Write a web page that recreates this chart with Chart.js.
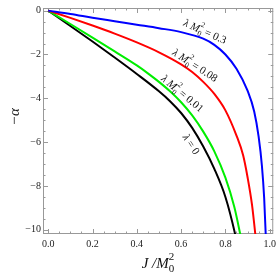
<!DOCTYPE html>
<html>
<head>
<meta charset="utf-8">
<script src="https://cdn.jsdelivr.net/npm/chart.js@4.4.1/dist/chart.umd.min.js"></script>
<style>
  body { margin: 0; background: #fff; }
  canvas { display: block; }
</style>
</head>
<body>
<canvas id="grafica" width="280" height="276"></canvas>
<script>
// valores: J/M0^2 y -alpha para cada curva
const jNegro = [0, 0.1, 0.2, 0.3, 0.4, 0.5, 0.55, 0.6, 0.65, 0.7, 0.75, 0.8, 0.844, 0.85];
const aNegro = [0, -0.70, -1.41, -2.14, -2.89, -3.68, -4.13, -4.67, -5.35, -6.20, -7.22, -8.50, -10.2, -10.5];

const jVerde = [0, 0.1, 0.2, 0.3, 0.4, 0.45, 0.5, 0.55, 0.6, 0.65, 0.7, 0.75, 0.8, 0.84, 0.867, 0.875];
const aVerde = [0, -0.61, -1.23, -1.86, -2.50, -2.86, -3.25, -3.68, -4.18, -4.78, -5.52, -6.42, -7.62, -8.95, -10.2, -10.6];

const jRojo = [0, 0.1, 0.2, 0.3, 0.4, 0.5, 0.6, 0.65, 0.7, 0.75, 0.8, 0.85, 0.88, 0.9, 0.92, 0.935, 0.94];
const aRojo = [0, -0.33, -0.68, -1.05, -1.45, -1.90, -2.45, -2.80, -3.25, -3.80, -4.55, -5.70, -6.60, -7.60, -8.85, -10.2, -10.7];

const jAzul = [0, 0.1, 0.2, 0.3, 0.4, 0.5, 0.6, 0.7, 0.75, 0.8, 0.85, 0.9, 0.93, 0.95, 0.965, 0.975, 0.982, 0.985];
const aAzul = [0, -0.15, -0.32, -0.48, -0.64, -0.80, -0.98, -1.28, -1.56, -2.00, -2.65, -3.65, -4.60, -5.75, -7.10, -8.55, -10.2, -11.2];

// marcas de los ejes
const xMarcas = [0, 0.2, 0.4, 0.6, 0.8, 1.0];
const xEtiquetas = ['0.0', '0.2', '0.4', '0.6', '0.8', '1.0'];
const yMarcas = [0, -2, -4, -6, -8, -10];
const yEtiquetas = ['0', '\u22122', '\u22124', '\u22126', '\u22128', '\u221210'];

// etiquetas de las curvas
const etiquetasCurvas = [
    { valor: '0.3', j: 0.708, a: -0.95, angulo: 24 },
    { valor: '0.08', j: 0.663, a: -2.5, angulo: 33 },
    { valor: '0.01', j: 0.606, a: -3.78, angulo: 40 },
    { valor: null, j: 0.645, a: -6.1, angulo: 57 }
];

const serif = '"Liberation Serif", "DejaVu Serif", serif';

function puntos(js, as) {
    return js.map((j, i) => ({ x: j, y: as[i] }));
}

function serie(js, as, color) {
    return {
        data: puntos(js, as),
        borderColor: color,
        borderWidth: 2,
        pointRadius: 0,
        fill: false,
        cubicInterpolationMode: 'monotone'
    };
}

// dibuja texto con subindice y superindice apilados
function dibujarPartes(ctx, partes) {
    let ancho = 0;
    partes.forEach(p => {
        ctx.font = p.font;
        p.w = p.apilado ? Math.max(ctx.measureText(p.t).width, ctx.measureText(p.t2).width) : ctx.measureText(p.t).width;
        ancho += p.w;
    });
    let x = -ancho / 2;
    partes.forEach(p => {
        ctx.font = p.font;
        if (p.apilado) {
            ctx.fillText(p.t, x, p.dy1);
            ctx.fillText(p.t2, x, p.dy2);
        } else {
            ctx.fillText(p.t, x, p.dy || 0);
        }
        x += p.w;
    });
}

const marcoPlugin = {
    id: 'marco',
    beforeDatasetsDraw(chart) {
        const { ctx, chartArea: a, scales } = chart;
        const sx = scales.x, sy = scales.y;
        ctx.save();
        ctx.strokeStyle = '#999';
        ctx.lineWidth = 1;
        ctx.strokeRect(a.left + 0.5, a.top + 0.5, a.right - a.left - 1, a.bottom - a.top - 1);
        ctx.beginPath();
        // marcas en x (abajo y arriba)
        for (let k = 0; k <= 20; k++) {
            const v = k * 0.05;
            const px = Math.round(sx.getPixelForValue(v)) + 0.5;
            const largo = k % 4 === 0 ? 5 : 2.5;
            ctx.moveTo(px, a.bottom);
            ctx.lineTo(px, a.bottom - largo);
            ctx.moveTo(px, a.top);
            ctx.lineTo(px, a.top + largo);
        }
        // marcas en y (izquierda y derecha)
        for (let k = 0; k <= 20; k++) {
            const v = -k * 0.5;
            const py = Math.round(sy.getPixelForValue(v)) + 0.5;
            const largo = k % 4 === 0 ? 5 : 2.5;
            ctx.moveTo(a.left, py);
            ctx.lineTo(a.left + largo, py);
            ctx.moveTo(a.right, py);
            ctx.lineTo(a.right - largo, py);
        }
        ctx.stroke();
        ctx.restore();
    },
    afterDatasetsDraw(chart) {
        const { ctx, scales } = chart;
        const sx = scales.x, sy = scales.y;
        ctx.save();
        ctx.fillStyle = '#111';
        ctx.textBaseline = 'alphabetic';
        etiquetasCurvas.forEach(e => {
            ctx.save();
            ctx.translate(sx.getPixelForValue(e.j), sy.getPixelForValue(e.a));
            ctx.rotate(e.angulo * Math.PI / 180);
            let partes;
            if (e.valor === null) {
                partes = [
                    { t: '\u03bb', font: 'italic 11px ' + serif, dy: 3.5 },
                    { t: ' = 0', font: '11px ' + serif, dy: 3.5 }
                ];
            } else {
                partes = [
                    { t: '\u03bb ', font: 'italic 11px ' + serif, dy: 3.5 },
                    { t: 'M', font: 'italic 11px ' + serif, dy: 3.5 },
                    { t: '0', t2: '2', apilado: true, font: '7.5px ' + serif, dy1: 6.5, dy2: -3 },
                    { t: ' = ' + e.valor, font: '11px ' + serif, dy: 3.5 }
                ];
            }
            dibujarPartes(ctx, partes);
            ctx.restore();
        });

        // titulo eje x: J / M0^2
        ctx.save();
        ctx.translate(158, 0);
        dibujarPartes(ctx, [
            { t: 'J /M', font: 'italic 15px ' + serif, dy: 268 },
            { t: '0', t2: '2', apilado: true, font: '11px ' + serif, dy1: 272, dy2: 260 }
        ]);
        ctx.restore();

        // titulo eje y: -alpha
        ctx.save();
        ctx.translate(19, 117);
        ctx.rotate(-Math.PI / 2);
        ctx.textAlign = 'center';
        ctx.font = 'italic 15px ' + serif;
        ctx.fillText('\u2212\u03b1', 0, 0);
        ctx.restore();
        ctx.restore();
    }
};

const ctx = document.getElementById('grafica').getContext('2d');

new Chart(ctx, {
    type: 'line',
    data: {
        datasets: [
            serie(jAzul, aAzul, '#0000ff'),
            serie(jRojo, aRojo, '#ff0000'),
            serie(jVerde, aVerde, '#00ee00'),
            serie(jNegro, aNegro, '#000000')
        ]
    },
    options: {
        responsive: false,
        animation: false,
        layout: { padding: { top: 3, right: 3, left: 0, bottom: 0 } },
        plugins: { legend: { display: false }, tooltip: { enabled: false } },
        scales: {
            x: {
                type: 'linear',
                min: -0.0236,
                max: 1.016,
                afterBuildTicks: s => { s.ticks = xMarcas.map(v => ({ value: v })); },
                afterFit: s => { s.height = 42; },
                grid: { display: false, drawTicks: false },
                border: { display: false },
                ticks: {
                    autoSkip: false,
                    maxRotation: 0,
                    padding: 4,
                    color: '#222',
                    font: { family: serif, size: 10 },
                    callback: (v, i) => xEtiquetas[i]
                }
            },
            y: {
                type: 'linear',
                min: -10.19,
                max: 0.12,
                afterBuildTicks: s => { s.ticks = yMarcas.map(v => ({ value: v })); },
                afterFit: s => { s.width = 43; },
                grid: { display: false, drawTicks: false },
                border: { display: false },
                ticks: {
                    autoSkip: false,
                    padding: 2,
                    color: '#222',
                    font: { family: serif, size: 10 },
                    callback: (v, i) => yEtiquetas[i]
                }
            }
        }
    },
    plugins: [marcoPlugin]
});
</script>
</body>
</html>
